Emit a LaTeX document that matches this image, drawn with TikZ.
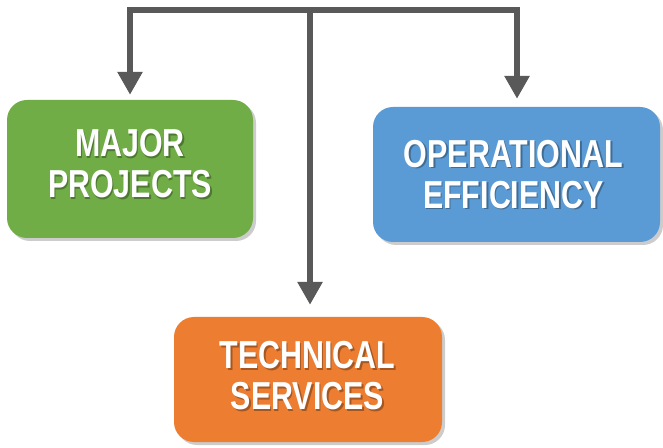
\documentclass[tikz,border=0pt]{standalone}
\usepackage{fontspec}
\newfontfamily\boxfont[FakeStretch=0.78]{Liberation Sans}
\usetikzlibrary{arrows.meta,shadows}
\definecolor{cgreen}{HTML}{70AD47}
\definecolor{cblue}{HTML}{5B9BD5}
\definecolor{corange}{HTML}{ED7D31}
\definecolor{cgray}{HTML}{595959}
\tikzset{
  x=1pt,y=1pt,
  boxshape/.style={rectangle, rounded corners=20pt, inner sep=0pt,
    drop shadow={shadow xshift=3pt, shadow yshift=-3pt, opacity=0.2, fill=black}},
  lbl/.style={align=center, inner sep=0pt, text=white,
    font=\boxfont\bfseries\fontsize{39}{41}\selectfont},
  lblshadow/.style={lbl, text=black, text opacity=0.3},
  arr/.style={draw=cgray, line width=6pt, line join=miter,
    -{Triangle[width=24pt,length=23pt]}}
}
\begin{document}
\begin{tikzpicture}
\useasboundingbox (0,0) rectangle (663,447);
\fill[white] (0,0) rectangle (663,447);
% boxes
\node[boxshape, fill=cgreen, minimum width=246pt, minimum height=138pt] (major) at (130,278) {};
\node[boxshape, fill=cblue, minimum width=287pt, minimum height=135pt] (eff) at (516.5,272.5) {};
\node[boxshape, fill=corange, minimum width=268pt, minimum height=125pt] (tech) at (308,67.5) {};
% labels
\node[lblshadow] at (131.5,281.5) {MAJOR\\PROJECTS};
\node[lbl] (majorlbl) at (130,283) {MAJOR\\PROJECTS};
\node[lblshadow] at (515,271) {OPERATIONAL\\EFFICIENCY};
\node[lbl] (efflbl) at (513.5,272.5) {OPERATIONAL\\EFFICIENCY};
\node[lblshadow] at (309,69.5) {TECHNICAL\\SERVICES};
\node[lbl] (techlbl) at (307.5,71) {TECHNICAL\\SERVICES};
% connectors
\coordinate (hub) at (310,437);
\draw[arr, shorten >=5pt] (hub) -| (major.north);
\draw[arr, shorten >=8pt] (hub) -| ([xshift=0.5pt]eff.north);
\draw[arr, shorten >=12pt] (hub) -- (hub |- tech.north);
\end{tikzpicture}
\end{document}
